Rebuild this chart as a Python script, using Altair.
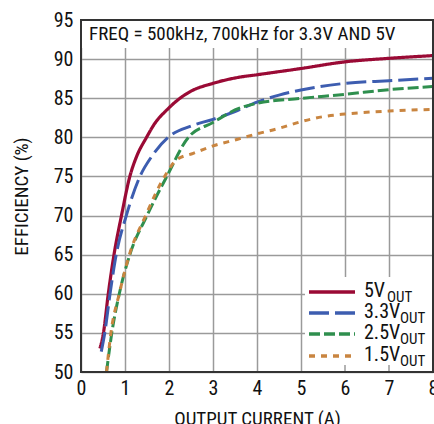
import altair as alt
import pandas as pd

# ---- data ----
x_5v = [0.43, 0.51, 0.62, 0.75, 0.92, 1.11, 1.26, 1.49, 1.68, 1.95, 2.25, 2.5, 3.0, 3.56, 4.0, 5.0, 6.0, 7.0, 8.0]
y_5v = [53.0, 55, 60, 65, 70, 75, 77.5, 80, 81.8, 83.5, 85, 85.9, 86.9, 87.65, 88.0, 88.8, 89.65, 90.1, 90.45]

x_33v = [0.46, 0.54, 0.66, 0.8, 1.03, 1.34, 1.6, 1.98, 2.5, 3.0, 3.5, 4.0, 4.5, 5.0, 6.0, 7.0, 8.0]
y_33v = [52.6, 55, 60, 65, 70, 75, 77.5, 80, 81.45, 82.3, 83.3, 84.5, 85.4, 86.05, 86.9, 87.24, 87.55]

x_25v = [0.58, 0.70, 0.87, 1.11, 1.5, 1.95, 2.44, 3.0, 3.3, 3.5, 4.0, 5.0, 6.0, 7.0, 8.0]
y_25v = [50, 55, 60, 65, 70, 75, 80, 81.9, 82.9, 83.5, 84.35, 84.98, 85.5, 86.1, 86.5]

x_15v = [0.58, 0.68, 0.87, 1.10, 1.47, 1.9, 2.17, 2.55, 3.0, 3.56, 4.0, 4.5, 5.0, 5.5, 6.0, 7.0, 8.0]
y_15v = [50, 55, 60, 65, 70, 75, 77.1, 77.95, 78.9, 79.75, 80.45, 81.15, 82.0, 82.64, 82.98, 83.36, 83.58]

series_main = ["5V", "3.3V", "2.5V", "1.5V"]
series_sub = ["OUT", "OUT", "OUT", "OUT"]
series_x = [x_5v, x_33v, x_25v, x_15v]
series_y = [y_5v, y_33v, y_25v, y_15v]
x_ticks = [0, 1, 2, 3, 4, 5, 6, 7, 8]
y_ticks = [50, 55, 60, 65, 70, 75, 80, 85, 90, 95]
note = "FREQ = 500kHz, 700kHz for 3.3V AND 5V"

# ---- styles ----
colors = ["#9a0a35", "#3d5db0", "#2f8f4e", "#c98540"]
dashes = [[1, 0], [20, 6], [11, 4], [6, 6]]
widths = [3.2, 3, 3, 3]
FONT = "Roboto Condensed, DejaVu Sans Condensed, Liberation Sans, sans-serif"
W, H = 352, 352

xs = alt.Scale(domain=[0, 8], nice=False)
ys = alt.Scale(domain=[50, 95], nice=False)

x_axis = alt.Axis(values=x_ticks, title="OUTPUT CURRENT (A)", ticks=False, domain=False,
                  labelFontSize=20, titleFontSize=19, labelPadding=6, titlePadding=11,
                  labelFont=FONT, titleFont=FONT, labelColor="#111", titleColor="#111",
                  titleFontWeight="normal", gridColor="#9a9a9a", gridWidth=1.5,
                  labelFlush=False, labelOverlap=False, tickCount=9)
y_axis = alt.Axis(values=y_ticks, title="EFFICIENCY (%)", ticks=False, domain=False,
                  labelFontSize=20, titleFontSize=19, labelPadding=8, titlePadding=22,
                  labelFont=FONT, titleFont=FONT, labelColor="#111", titleColor="#111",
                  titleFontWeight="normal", gridColor="#9a9a9a", gridWidth=1.5,
                  labelFlush=False, labelOverlap=False, tickCount=10)


def X(field):
    return alt.X(field, scale=xs, axis=x_axis)


def Y(field):
    return alt.Y(field, scale=ys, axis=y_axis)


base_df = pd.DataFrame({"x": [0, 8], "y": [50, 95]})
axes = alt.Chart(base_df).mark_point(opacity=0).encode(x=X("x:Q"), y=Y("y:Q"))

# white boxes for note and legend
box_note = alt.Chart(base_df).mark_rect(color="white").encode(
    x=alt.value(0), x2=alt.value(W), y=alt.value(0), y2=alt.value(28))
box_leg = alt.Chart(base_df).mark_rect(color="white").encode(
    x=alt.value(224), x2=alt.value(W), y=alt.value(257), y2=alt.value(H))

inner_ticks = alt.Chart(pd.DataFrame({"t": [6, 7]})).mark_rule(color="#9a9a9a", strokeWidth=1.5).encode(
    x=X("t:Q"), y=alt.value(H - 7), y2=alt.value(H))

layers = [axes, box_note, box_leg, inner_ticks]

for i in range(4):
    df = pd.DataFrame({"x": series_x[i], "y": series_y[i]})
    layers.append(
        alt.Chart(df).mark_line(color=colors[i], strokeWidth=widths[i], strokeDash=dashes[i],
                                interpolate="monotone", strokeCap="butt").encode(
            x=X("x:Q"), y=Y("y:Q"))
    )

# legend
row_y = [272, 293, 314, 336]
sub_x = [306, 319, 319, 319]
for i in range(4):
    one = pd.DataFrame({"k": [0]})
    layers.append(alt.Chart(one).mark_rule(color=colors[i], strokeWidth=widths[i] + 0.5,
                                           strokeDash=dashes[i], strokeCap="butt").encode(
        x=alt.value(228), x2=alt.value(274), y=alt.value(row_y[i])))
    layers.append(alt.Chart(pd.DataFrame({"t": [series_main[i]]})).mark_text(
        font=FONT, fontSize=20, align="left", baseline="middle", color="#111").encode(
        text="t:N", x=alt.value(283), y=alt.value(row_y[i] - 1)))
    layers.append(alt.Chart(pd.DataFrame({"t": [series_sub[i]]})).mark_text(
        font=FONT, fontSize=15, align="left", baseline="middle", color="#111").encode(
        text="t:N", x=alt.value(sub_x[i]), y=alt.value(row_y[i] + 5)))

layers.append(alt.Chart(pd.DataFrame({"t": [note]})).mark_text(
    font=FONT, fontSize=19, align="left", baseline="middle", color="#111").encode(
    text="t:N", x=alt.value(8), y=alt.value(14)))

frame = alt.Chart(base_df).mark_rect(fill=None, stroke="#333", strokeWidth=2).encode(
    x=alt.value(0), x2=alt.value(W), y=alt.value(0), y2=alt.value(H))
layers.append(frame)

chart = alt.layer(*layers).properties(
    width=W, height=H,
    autosize=alt.AutoSizeParams(type="none"),
    padding={"left": 81, "top": 20, "right": 1, "bottom": 52},
).configure_view(stroke=None).configure(background="white")

chart.save("out.html", embed_options={"renderer": "svg", "actions": False})
